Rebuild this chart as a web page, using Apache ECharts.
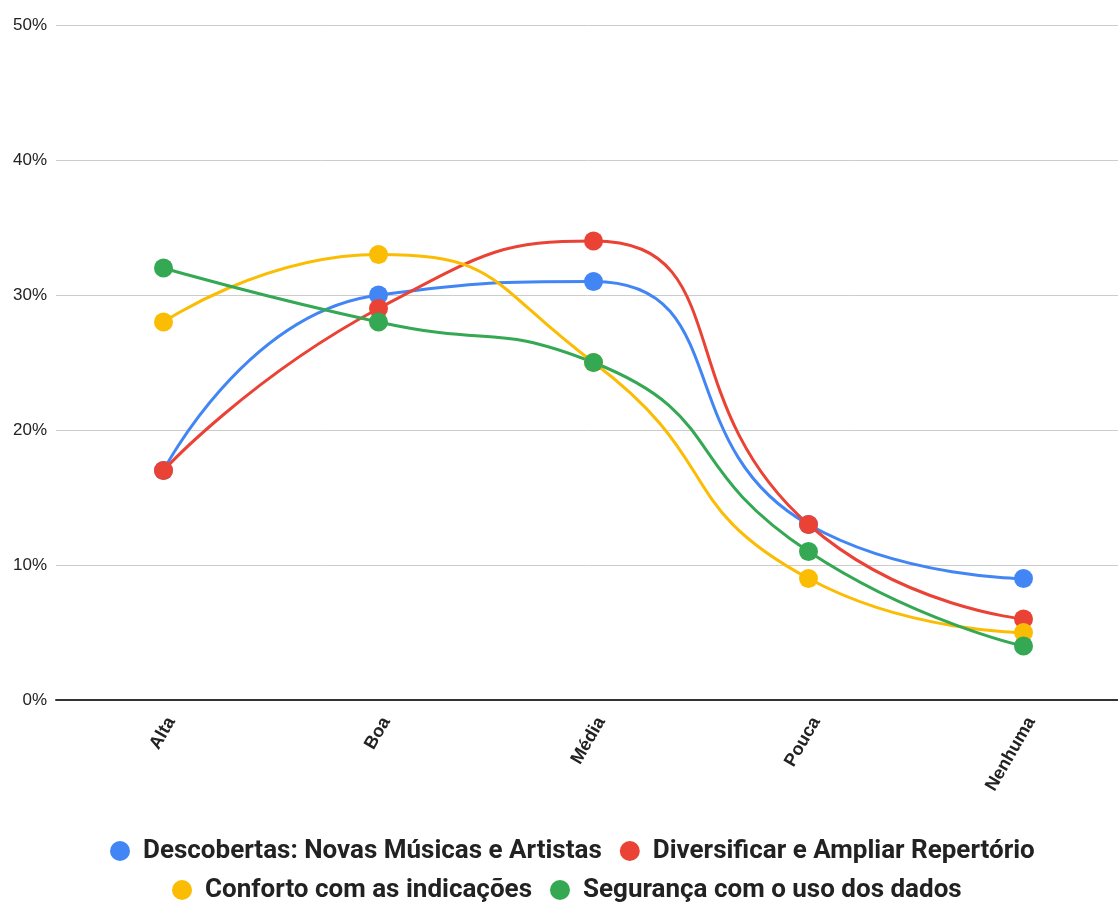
<!DOCTYPE html>
<html><head><meta charset="utf-8">
<script src="https://cdn.jsdelivr.net/npm/echarts@6/dist/echarts.min.js"></script>
<style>html,body{margin:0;padding:0;background:#fff}#c{width:1118px;height:902px}</style>
</head><body><div id="c"></div>
<script>
const categories = ['Alta', 'Boa', 'Média', 'Pouca', 'Nenhuma'];
const seriesNames = ['Descobertas: Novas Músicas e Artistas', 'Diversificar e Ampliar Repertório', 'Conforto com as indicações', 'Segurança com o uso dos dados'];
const descobertas = [17, 30, 31, 13, 9];
const diversificar = [17, 29, 34, 13, 6];
const conforto = [28, 33, 25, 9, 5];
const seguranca = [32, 28, 25, 11, 4];
const colors = ['#4285F4', '#EA4335', '#FBBC04', '#34A853'];
const values = [descobertas, diversificar, conforto, seguranca];

const chart = echarts.init(document.getElementById('c'));
const legendText = {fontFamily: 'Roboto, sans-serif', fontWeight: 'bold', fontSize: 26, color: '#222', padding: [0, 0, 0, 8]};
chart.setOption({
  animation: false,
  color: colors,
  grid: {left: 56, width: 1075, top: 25, bottom: 202, containLabel: false, outerBoundsMode: 'none'},
  legend: [
    {data: seriesNames.slice(0, 2), left: 110, top: 838, padding: 0, icon: 'circle', itemWidth: 20, itemHeight: 20, itemGap: 18, textStyle: legendText},
    {data: seriesNames.slice(2), left: 172, top: 877, padding: 0, icon: 'circle', itemWidth: 20, itemHeight: 20, itemGap: 18, textStyle: legendText}
  ],
  xAxis: {
    type: 'category', data: categories, boundaryGap: true,
    axisLine: {lineStyle: {color: '#333', width: 2}},
    axisTick: {show: false},
    axisLabel: {rotate: 60, verticalAlign: 'top', fontFamily: 'Liberation Sans, Arial, sans-serif', fontWeight: 'bold', fontSize: 18, color: '#222', margin: 14}
  },
  yAxis: {
    type: 'value', min: 0, max: 50, interval: 10,
    axisLabel: {formatter: '{value}%', fontFamily: 'Liberation Sans, Arial, sans-serif', fontSize: 17, color: '#222', margin: 9},
    splitLine: {lineStyle: {color: '#cccccc', width: 1}},
    axisLine: {show: false}, axisTick: {show: false}
  },
  series: values.map((v, i) => ({
    name: seriesNames[i], type: 'line', data: v, smooth: 0.55,
    symbol: 'circle', symbolSize: 19,
    lineStyle: {width: 3, color: colors[i]},
    itemStyle: {color: colors[i]}
  }))
});
</script></body></html>
